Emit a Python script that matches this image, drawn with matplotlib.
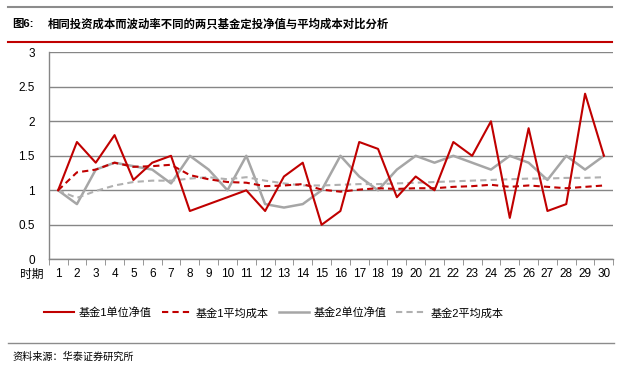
import matplotlib
matplotlib.use("Agg")
import matplotlib.pyplot as plt
from matplotlib.lines import Line2D

plt.rcParams['font.family'] = ['Liberation Sans', 'Noto Sans CJK SC', 'DejaVu Sans']

periods = list(range(1, 31))
fund1_nav = [1.0, 1.7, 1.4, 1.8, 1.15, 1.4, 1.5, 0.7, 0.8, 0.9, 1.0, 0.7, 1.2, 1.4, 0.5,
             0.7, 1.7, 1.6, 0.9, 1.2, 1.0, 1.7, 1.5, 2.0, 0.6, 1.9, 0.7, 0.8, 2.4, 1.5]
fund1_cost = [1.0, 1.26, 1.30, 1.40, 1.34, 1.35, 1.37, 1.22, 1.16, 1.12, 1.11, 1.06, 1.07, 1.09, 1.01,
              0.98, 1.01, 1.03, 1.02, 1.03, 1.03, 1.05, 1.06, 1.08, 1.05, 1.07, 1.05, 1.03, 1.05, 1.07]
fund2_nav = [1.0, 0.8, 1.3, 1.4, 1.35, 1.3, 1.1, 1.5, 1.3, 1.0, 1.5, 0.8, 0.75, 0.8, 1.0,
             1.5, 1.2, 1.0, 1.3, 1.5, 1.4, 1.5, 1.4, 1.3, 1.5, 1.4, 1.15, 1.5, 1.3, 1.5]
fund2_cost = [1.0, 0.89, 0.99, 1.07, 1.12, 1.14, 1.14, 1.17, 1.19, 1.16, 1.19, 1.14, 1.10, 1.07, 1.07,
              1.08, 1.09, 1.09, 1.10, 1.11, 1.12, 1.13, 1.14, 1.15, 1.16, 1.17, 1.17, 1.18, 1.18, 1.19]
series_labels = ['基金1单位净值', '基金1平均成本', '基金2单位净值', '基金2平均成本']
title_prefix = '图6:'
title_text = '相同投资成本而波动率不同的两只基金定投净值与平均成本对比分析'
source_text = '资料来源：华泰证券研究所'
x_axis_name = '时期'
yticks = [0, 0.5, 1, 1.5, 2, 2.5, 3]

W, H = 634, 370
fig = plt.figure(figsize=(W / 100, H / 100), dpi=100)

RED = '#C00000'
GRAY = '#A6A6A6'
GRAY_D = '#B0B0B0'
GRID = '#868686'

left, right, top, bottom = 48.7, 613.3, 52.3, 259.3
ax = fig.add_axes([left / W, 1 - bottom / H, (right - left) / W, (bottom - top) / H])

x = list(range(len(periods)))
ax.plot(x, fund1_nav, color=RED, lw=1.5, zorder=4)
ax.plot(x, fund1_cost, color=RED, lw=1.5, ls=(0, (3, 2)), zorder=3)
ax.plot(x, fund2_nav, color=GRAY, lw=1.8, zorder=2)
ax.plot(x, fund2_cost, color=GRAY_D, lw=1.5, ls=(0, (3, 2)), zorder=2)

ax.set_xlim(-0.5, len(periods) - 0.5)
ax.set_ylim(0, 3)
ax.set_yticks(yticks)
ax.set_yticklabels([f'{v:g}' for v in yticks], fontsize=8.5)
ax.yaxis.grid(True, color=GRID, lw=1)
ax.set_axisbelow(True)
ax.tick_params(axis='y', length=0, pad=10)

ax.set_xticks(x)
ax.set_xticklabels([str(p) for p in periods], fontsize=8.5)
ax.tick_params(axis='x', length=0, pad=6)
ax.set_xticks([i - 0.5 for i in range(len(periods) + 1)], minor=True)
ax.tick_params(axis='x', which='minor', length=4, color=GRID, direction='out')

for s in ['top', 'right']:
    ax.spines[s].set_visible(False)
ax.spines['left'].set_color(GRID)
ax.spines['bottom'].set_color(GRID)
ax.spines['left'].set_linewidth(1)
ax.spines['bottom'].set_linewidth(1)

fig.text(20 / W, 1 - 275 / H, x_axis_name, fontsize=8.5, ha='left', va='center')

# legend
handles = [
    Line2D([], [], color=RED, lw=1.5),
    Line2D([], [], color=RED, lw=1.5, ls=(0, (3, 2))),
    Line2D([], [], color=GRAY, lw=1.8),
    Line2D([], [], color=GRAY_D, lw=1.5, ls=(0, (3, 2))),
]
fig.legend(handles, series_labels, loc='center', bbox_to_anchor=(274 / W, 1 - 313 / H),
           ncol=4, frameon=False, fontsize=8, handlelength=2.7, handletextpad=0.4,
           columnspacing=0.9)

# header lines
fig.add_artist(Line2D([8 / W, 612 / W], [1 - 7 / H, 1 - 7 / H], color='#8C8C8C', lw=1.5))
fig.add_artist(Line2D([8 / W, 612 / W], [1 - 42 / H, 1 - 42 / H], color=RED, lw=1.5))
fig.add_artist(Line2D([8 / W, 614 / W], [1 - 343 / H, 1 - 343 / H], color='#8C8C8C', lw=1))

fig.text(12 / W, 1 - 24 / H, title_prefix, fontsize=8.2, fontweight='bold', ha='left', va='center')
fig.text(48 / W, 1 - 24 / H, title_text, fontsize=8.2, fontweight='bold', ha='left', va='center')
fig.text(12 / W, 1 - 357 / H, source_text, fontsize=7.3, style='italic', ha='left', va='center')

fig.savefig('out.png', dpi=100, facecolor='white')
